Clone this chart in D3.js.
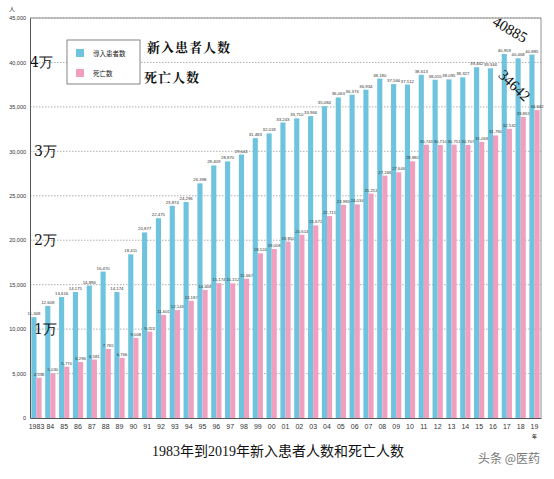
<!DOCTYPE html>
<html>
<head>
<meta charset="utf-8">
<script src="https://cdn.jsdelivr.net/npm/d3@7"></script>
<style>
  body { margin: 0; background: #fff; }
  svg { display: block; }
</style>
</head>
<body>
<script>
const width = 554, height = 479;
const margin = {top: 18, right: 13, bottom: 61, left: 30};

// data
const years = ["1983","84","85","86","87","88","89","90","91","92","93","94","95","96","97","98","99",
  "00","01","02","03","04","05","06","07","08","09","10","11","12","13","14","15","16","17","18","19"];
const newPatients = [11348, 12608, 13616, 14175, 14896, 16470, 14174, 18411, 20877, 22475, 23874, 24296,
  26398, 28409, 28870, 29641, 31483, 32018, 33243, 33710, 33966, 35084, 36063, 36373, 36934, 38180,
  37566, 37512, 38613, 38055, 38095, 38327, 39462, 39344, 40959, 40468, 40885];
const deaths = [4536, 5030, 5770, 6296, 6581, 7765, 6766, 9008, 9722, 11601, 12143, 13187,
  14408, 15174, 15152, 15667, 18524, 19008, 19850, 20614, 21672, 22715, 23983, 24034, 25253, 27266,
  27646, 28882, 30743, 30710, 30751, 30707, 31068, 31790, 32532, 33863, 34642];
const seriesNames = ["導入患者数", "死亡数"];
const yTicks = [0, 5000, 10000, 15000, 20000, 25000, 30000, 35000, 40000, 45000];
const wanLabels = [{v: 40000, t: "4万"}, {v: 30000, t: "3万"}, {v: 20000, t: "2万"}, {v: 10000, t: "1万"}];

const blue = "#6ec4de", pink = "#f0a0be";

const svg = d3.select("body").append("svg")
    .attr("width", width)
    .attr("height", height);

var x = d3.scaleBand()
    .domain(years)
    .range([margin.left, width - margin.right])
    .paddingInner(0.26)
    .paddingOuter(0.1);

var sub = d3.scaleBand()
    .domain([0, 1])
    .range([0, x.bandwidth()]);

var y = d3.scaleLinear()
    .domain([0, 45000])
    .range([height - margin.bottom, margin.top]);

// dotted grid
svg.append("g")
  .selectAll("line")
  .data(yTicks.filter(d => d > 0))
  .join("line")
    .attr("x1", margin.left)
    .attr("x2", width - margin.right)
    .attr("y1", d => y(d))
    .attr("y2", d => y(d))
    .attr("stroke", "#9a9a9a")
    .attr("stroke-width", 0.8)
    .attr("stroke-dasharray", "1.5,1.5");

// frame (top + right)
svg.append("path")
    .attr("d", `M${margin.left},${y(45000)}H${width - margin.right}V${y(0)}`)
    .attr("fill", "none")
    .attr("stroke", "#777")
    .attr("stroke-width", 0.8);

// bars
const groups = svg.append("g")
  .selectAll("g")
  .data(years)
  .join("g")
    .attr("transform", d => `translate(${x(d)},0)`);

groups.append("rect")
    .attr("x", sub(0))
    .attr("y", (d, i) => y(newPatients[i]))
    .attr("width", sub.bandwidth())
    .attr("height", (d, i) => y(0) - y(newPatients[i]))
    .attr("fill", blue);

groups.append("rect")
    .attr("x", sub(1))
    .attr("y", (d, i) => y(deaths[i]))
    .attr("width", sub.bandwidth())
    .attr("height", (d, i) => y(0) - y(deaths[i]))
    .attr("fill", pink);

// tiny value labels
groups.append("text")
    .attr("x", sub(0) + sub.bandwidth() / 2)
    .attr("y", (d, i) => y(newPatients[i]) - 2)
    .attr("text-anchor", "middle")
    .style("font-family", "Liberation Sans Narrow, Liberation Sans, sans-serif")
    .style("font-size", "4.3px")
    .attr("fill", "#333")
    .text((d, i) => d3.format(",")(newPatients[i]));

groups.append("text")
    .attr("x", sub(1) + sub.bandwidth() / 2)
    .attr("y", (d, i) => y(deaths[i]) - 2)
    .attr("text-anchor", "middle")
    .style("font-family", "Liberation Sans Narrow, Liberation Sans, sans-serif")
    .style("font-size", "4.3px")
    .attr("fill", "#333")
    .text((d, i) => d3.format(",")(deaths[i]));

// axes
var xAxis = g => g
    .attr("transform", `translate(0,${y(0)})`)
    .call(d3.axisBottom(x).tickSize(0).tickPadding(6))
    .call(g => g.select(".domain").attr("stroke", "#555"))
    .call(g => g.selectAll("text")
        .style("font-family", "Liberation Sans Narrow, Liberation Sans, sans-serif")
        .style("font-size", "7px")
        .attr("fill", "#333"));

var yAxis = g => g
    .attr("transform", `translate(${margin.left},0)`)
    .call(d3.axisLeft(y).tickValues(yTicks).tickSize(0).tickPadding(4).tickFormat(d3.format(",")))
    .call(g => g.select(".domain").attr("stroke", "#555"))
    .call(g => g.selectAll("text")
        .style("font-family", "Liberation Sans Narrow, Liberation Sans, sans-serif")
        .style("font-size", "5.5px")
        .attr("fill", "#333"));

svg.append("g").call(xAxis);
svg.append("g").call(yAxis);

// unit labels
svg.append("text")
    .attr("x", 12)
    .attr("y", 11)
    .attr("text-anchor", "middle")
    .style("font-family", "Noto Sans CJK JP, sans-serif")
    .style("font-size", "6px")
    .attr("fill", "#333")
    .text("人");

svg.append("text")
    .attr("x", x("19") + x.bandwidth() / 2)
    .attr("y", y(0) + 20)
    .attr("text-anchor", "middle")
    .style("font-family", "Noto Sans CJK JP, sans-serif")
    .style("font-size", "5px")
    .style("font-weight", "bold")
    .attr("fill", "#333")
    .text("年");

// legend
const legend = svg.append("g").attr("transform", "translate(67,40)");
legend.append("rect")
    .attr("width", 73).attr("height", 44)
    .attr("fill", "#fff")
    .attr("stroke", "#666")
    .attr("stroke-width", 0.8);
legend.selectAll("g.item")
  .data(seriesNames)
  .join("g")
    .attr("class", "item")
    .attr("transform", (d, i) => `translate(9,${9 + i * 20})`)
    .call(g => g.append("rect")
        .attr("width", 8).attr("height", 8)
        .attr("fill", (d, i) => i === 0 ? blue : pink))
    .call(g => g.append("text")
        .attr("x", 17).attr("y", 6.5)
        .style("font-family", "Noto Sans CJK JP, sans-serif")
        .style("font-size", "6.5px")
        .attr("fill", "#222")
        .text(d => d));

// chinese annotations
const serif = "'Noto Serif CJK SC', 'Noto Sans CJK SC', serif";
svg.append("text")
    .attr("x", 147).attr("y", 52)
    .style("font-family", serif)
    .style("font-size", "13px")
    .style("font-weight", "bold")
    .style("letter-spacing", "1px")
    .attr("fill", "#111")
    .text("新入患者人数");
svg.append("text")
    .attr("x", 144).attr("y", 82)
    .style("font-family", serif)
    .style("font-size", "13px")
    .style("font-weight", "bold")
    .style("letter-spacing", "1px")
    .attr("fill", "#111")
    .text("死亡人数");

svg.append("g")
  .selectAll("text")
  .data(wanLabels)
  .join("text")
    .attr("x", (d, i) => i === 0 ? 30 : 34)
    .attr("y", d => y(d.v) + 5)
    .style("font-family", "'DejaVu Serif', 'Liberation Serif', serif")
    .style("font-size", "14px")
    .attr("fill", "#111")
    .text(d => d.t);

// rotated callouts for the last year
const last = years.length - 1;
svg.append("text")
    .attr("transform", `translate(${x(years[last]) - 38},${y(newPatients[last]) - 30}) rotate(30)`)
    .style("font-family", "'Liberation Serif', serif")
    .style("font-size", "15px")
    .attr("fill", "#111")
    .text(newPatients[last]);
svg.append("text")
    .attr("transform", `translate(${x(years[last]) - 32},${y(deaths[last]) - 34}) rotate(44)`)
    .style("font-family", "'Liberation Serif', serif")
    .style("font-size", "15px")
    .attr("fill", "#111")
    .text(deaths[last]);

// title
svg.append("text")
    .attr("x", 278).attr("y", 456)
    .attr("text-anchor", "middle")
    .style("font-family", "'Liberation Serif', 'Noto Sans CJK SC', serif")
    .style("font-size", "14px")
    .attr("fill", "#111")
    .text("1983年到2019年新入患者人数和死亡人数");

// watermark
svg.append("text")
    .attr("x", 540).attr("y", 463)
    .attr("text-anchor", "end")
    .style("font-family", "'Noto Sans CJK SC', sans-serif")
    .style("font-size", "12px")
    .attr("fill", "#777")
    .text("头条 @医药");
</script>
</body>
</html>
